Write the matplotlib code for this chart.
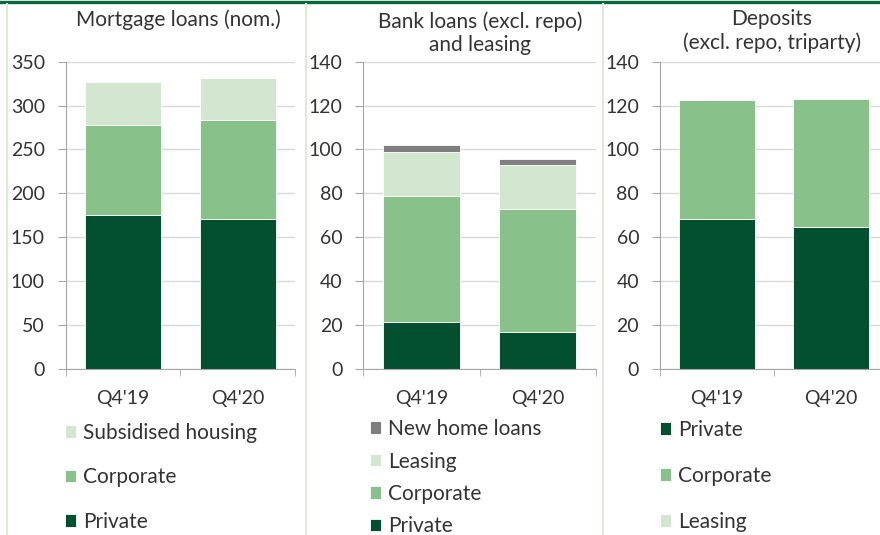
import matplotlib.pyplot as plt
from matplotlib.lines import Line2D

plt.rcParams['font.family'] = ['Lato', 'DejaVu Sans']

# kvartaler
quarters = ["Q4'19", "Q4'20"]

# boliglån (nom.)
mort_private = [175, 171]
mort_corporate = [103, 112]
mort_subsidised = [49, 48]

# banklån og leasing
bank_private = [21.2, 16.7]
bank_corporate = [57.5, 56.0]
bank_leasing = [20.0, 20.3]
bank_newhome = [3.4, 2.6]

# indlån
dep_private = [68.2, 64.7]
dep_corporate = [54.5, 58.5]
dep_leasing = [0, 0]

c_private = '#02502f'
c_corp = '#88c18a'
c_light = '#d3e6d0'
c_grey = '#7f7f7f'
c_text = '#333333'
c_axis = '#a6a6a6'
c_grid = '#d9d9d9'

W, H = 880, 535
fig = plt.figure(figsize=(W / 100, H / 100), dpi=100)


def px_axes(x0, x1, y_zero, y_top):
    return fig.add_axes([x0 / W, 1 - y_zero / H, (x1 - x0) / W, (y_zero - y_top) / H])


def style_axes(ax, ymax, step):
    ax.set_xlim(-0.5, 1.5)
    ax.set_ylim(0, ymax)
    ax.set_yticks(range(0, ymax + 1, step))
    ax.set_xticks([-0.5, 0.5, 1.5], minor=True)
    ax.set_xticks([0, 1])
    ax.set_xticklabels(quarters)
    ax.tick_params(axis='x', which='major', length=0, pad=15, labelsize=14, labelcolor=c_text)
    ax.tick_params(axis='x', which='minor', length=5, color=c_axis, direction='out')
    ax.tick_params(axis='y', length=6, color=c_axis, pad=9, labelsize=14, labelcolor=c_text)
    for s in ['top', 'right']:
        ax.spines[s].set_visible(False)
    ax.spines['left'].set_color(c_axis)
    ax.spines['bottom'].set_color(c_axis)
    ax.yaxis.grid(True, color=c_grid, linewidth=1)
    ax.set_axisbelow(True)


def stack(ax, series):
    bottom = [0, 0]
    bars = []
    for vals, col in series:
        b = ax.bar(range(2), vals, 0.66, bottom=bottom, color=col,
                   edgecolor='white', linewidth=0.6)
        bars.append(b)
        bottom = [a + v for a, v in zip(bottom, vals)]
    return bars


def add_legend(ax, handles, labels, x, y, spacing):
    ax.legend(handles, labels, loc='upper left', bbox_to_anchor=(x / W, 1 - y / H),
              bbox_transform=fig.transFigure, frameon=False, fontsize=15,
              handlelength=0.55, handleheight=0.55, handletextpad=0.3,
              labelspacing=spacing, borderpad=0, borderaxespad=0, labelcolor=c_text)


# boliglån
ax1 = px_axes(65.7, 295, 368.7, 61.7)
style_axes(ax1, 350, 50)
b = stack(ax1, [(mort_private, c_private), (mort_corporate, c_corp), (mort_subsidised, c_light)])
add_legend(ax1, [b[2], b[1], b[0]], ['Subsidised housing', 'Corporate', 'Private'], 65, 423, 1.17)
fig.text(178 / W, 1 - 20 / H, 'Mortgage loans (nom.)', ha='center', va='center',
         fontsize=15, color=c_text)

# banklån
ax2 = px_axes(363.3, 596, 368.7, 61.7)
style_axes(ax2, 140, 20)
b = stack(ax2, [(bank_private, c_private), (bank_corporate, c_corp),
                (bank_leasing, c_light), (bank_newhome, c_grey)])
add_legend(ax2, [b[3], b[2], b[1], b[0]], ['New home loans', 'Leasing', 'Corporate', 'Private'],
           370, 419, 0.6)
fig.text(480 / W, 1 - 33 / H, 'Bank loans (excl. repo)\nand leasing', ha='center', va='center',
         fontsize=15, color=c_text, linespacing=1.2)

# indlån
ax3 = px_axes(660, 888, 368.7, 61.7)
style_axes(ax3, 140, 20)
b = stack(ax3, [(dep_private, c_private), (dep_corporate, c_corp), (dep_leasing, c_light)])
add_legend(ax3, [b[0], b[1], b[2]], ['Private', 'Corporate', 'Leasing'], 660, 420, 1.24)
fig.text(772 / W, 1 - 31 / H, 'Deposits\n(excl. repo, triparty)', ha='center', va='center',
         fontsize=15, color=c_text, linespacing=1.2)

# rammer
fig.add_artist(Line2D([0, 1], [1 - 1.5 / H, 1 - 1.5 / H], transform=fig.transFigure,
                      color='#07673d', linewidth=2.4))
for xs in [7, 305.5, 602.5]:
    fig.add_artist(Line2D([xs / W, xs / W], [0, 1 - 4 / H], transform=fig.transFigure,
                          color='#dcebd8', linewidth=1.5))

fig.savefig('out.png', dpi=100)
